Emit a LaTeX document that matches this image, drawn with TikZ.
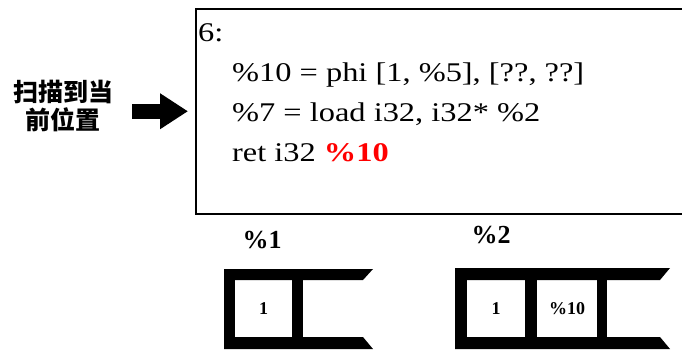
\documentclass[tikz,border=0pt]{standalone}
\usepackage{xcolor}
\usepackage{fontspec}
\setmainfont{Liberation Serif}
\newfontfamily\codefont{Liberation Serif}[FakeStretch=1.2]
\newfontfamily\cjk{Noto Sans CJK SC}
\usetikzlibrary{arrows.meta,positioning}

\begin{document}
\begin{tikzpicture}[x=1pt, y=-1pt,
    code/.style={anchor=base west, inner sep=0pt, font=\fontsize{27}{30}\selectfont\codefont},
    cell/.style={minimum width=57pt, minimum height=57pt, inner sep=0pt, font=\fontsize{18}{20}\selectfont\bfseries},
    stacklabel/.style={anchor=base, inner sep=0pt, font=\fontsize{26}{30}\selectfont\bfseries},
    bar/.style={fill=black, draw=none},
    bigarrow/.style={line width=15pt, -{Triangle[length=28pt, width=34pt]}}
]
    \useasboundingbox (0,0) rectangle (682,349);

    % Scan label and arrow
    \node[align=center, inner sep=0pt, font=\fontsize{25}{28}\selectfont\cjk\bfseries] (scan) at (63,106) {扫描到当\\前位置};
    \node[draw, line width=1.5pt, minimum width=505pt, minimum height=205pt, anchor=north west] (block) at (195,8) {};
    \draw[bigarrow, shorten <=19pt, shorten >=7pt] (scan.east |- block.west) -- (block.west);

    % Basic block code
    \node[code] (l1) at (198,41) {6:};
    \node[code] (l2) at (232,81) {\%10 = phi [1, \%5], [??, ??]};
    \node[code] (l3) at (232,121) {\%7 = load i32, i32* \%2};
    \node[code] (l4) at (232,161) {ret i32 \textcolor{red}{\bfseries\%10}};

    % Stack %1
    \node[stacklabel] (name1) at (262,248) {\%1};
    \fill[bar] (224,269) -- (373,269) -- (363,280) -- (224,280) -- cycle;
    \fill[bar] (224,337) -- (363,337) -- (373,349) -- (224,349) -- cycle;
    \foreach \x/\w in {224/11, 292/11}
        \fill[bar] (\x,269) rectangle ++(\w,80);
    \node[cell] (s1a) at (263.5,308.5) {1};

    % Stack %2
    \node[stacklabel] (name2) at (491,243) {\%2};
    \fill[bar] (455,268) -- (670,268) -- (660,280) -- (455,280) -- cycle;
    \fill[bar] (455,337) -- (660,337) -- (670,349) -- (455,349) -- cycle;
    \foreach \x/\w in {455/12, 525/12, 597/10}
        \fill[bar] (\x,268) rectangle ++(\w,81);
    \node[cell] (s2a) at (496,308.5) {1};
    \node[cell] (s2b) at (567,308.5) {\%10};
\end{tikzpicture}
\end{document}
